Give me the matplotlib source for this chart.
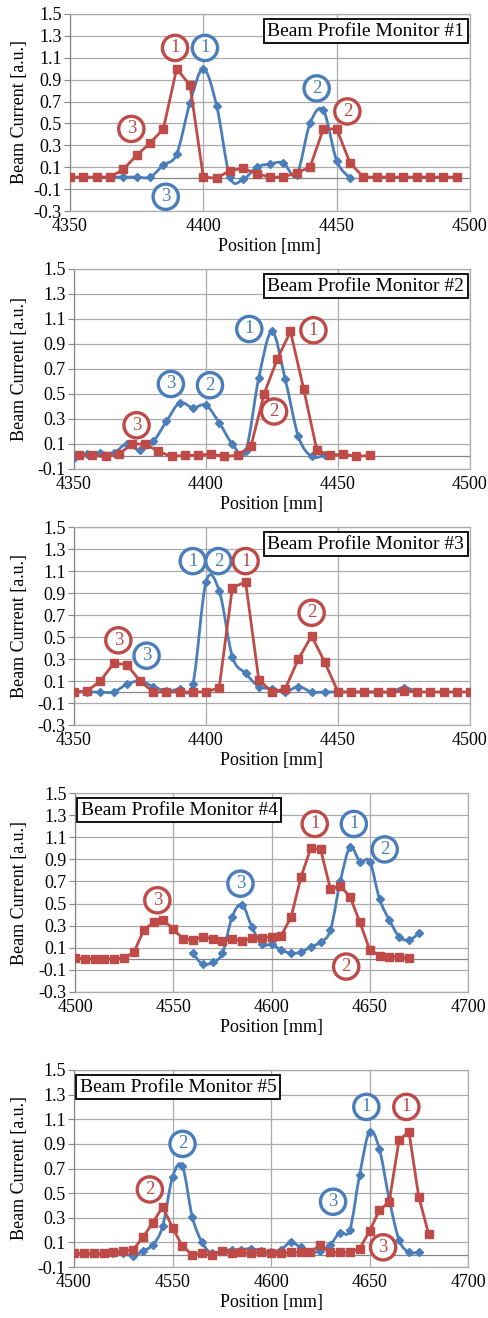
import matplotlib
matplotlib.use("Agg")
import matplotlib.pyplot as plt
import numpy as np
from matplotlib.path import Path
from matplotlib.patches import PathPatch

plt.rcParams["font.family"] = ["Liberation Serif", "DejaVu Serif"]

BLUE = "#4a7ebb"
RED = "#be4b48"

# ---- data ----
# monitor 1
m1_red_x = np.arange(4350, 4500, 5)
m1_red_y = [0.01, 0.01, 0.01, 0.01, 0.08, 0.21, 0.32, 0.45, 1.00, 0.85,
            0.01, 0.00, 0.07, 0.09, 0.04, 0.01, 0.01, 0.05, 0.10, 0.45,
            0.45, 0.14, 0.01, 0.01, 0.01, 0.01, 0.01, 0.01, 0.01, 0.01]
m1_blue_x = np.arange(4365, 4460, 5)
m1_blue_y = [0.01, 0.01, 0.01, 0.01, 0.12, 0.22, 0.69, 1.00, 0.66, 0.01,
             -0.01, 0.10, 0.13, 0.14, 0.03, 0.50, 0.62, 0.16, 0.00]

# monitor 2
m2_red_x = np.arange(4352, 4463, 5)
m2_red_y = [0.01, 0.01, 0.00, 0.02, 0.10, 0.10, 0.04, 0.00, 0.01, 0.01,
            0.02, 0.00, 0.01, 0.08, 0.50, 0.78, 1.00, 0.54, 0.05, 0.01,
            0.02, 0.00, 0.01]
m2_blue_x = np.arange(4350, 4446, 5)
m2_blue_y = [-0.01, 0.02, 0.03, 0.03, 0.10, 0.05, 0.12, 0.28, 0.43, 0.39,
             0.41, 0.27, 0.10, 0.04, 0.63, 1.00, 0.62, 0.16, 0.00, 0.01]

# monitor 3
m3_red_x = np.arange(4350, 4501, 5)
m3_red_y = [0.00, 0.01, 0.10, 0.26, 0.25, 0.10, 0.00, 0.00, 0.00, 0.00,
            0.00, 0.04, 0.95, 1.00, 0.11, 0.00, 0.03, 0.30, 0.51, 0.27,
            0.00, 0.00, 0.00, 0.00, 0.00, 0.01, 0.00, 0.00, 0.00, 0.00, 0.00]
m3_blue_x = np.arange(4350, 4481, 5)
m3_blue_y = [0.00, 0.00, 0.00, 0.00, 0.07, 0.10, 0.05, 0.01, 0.03, 0.07,
             1.00, 0.92, 0.32, 0.17, 0.05, 0.03, 0.00, 0.05, 0.00, 0.00,
             0.00, 0.00, 0.00, 0.00, 0.00, 0.04, 0.00]

# monitor 4
m4_red_x = np.arange(4500, 4671, 5)
m4_red_y = [0.01, 0.00, 0.00, 0.00, 0.00, 0.01, 0.06, 0.26, 0.33, 0.35,
            0.27, 0.18, 0.17, 0.20, 0.18, 0.16, 0.18, 0.16, 0.19, 0.19,
            0.20, 0.21, 0.38, 0.74, 1.00, 0.99, 0.63, 0.66, 0.56, 0.33,
            0.08, 0.03, 0.02, 0.02, 0.01]
m4_blue_x = np.arange(4560, 4676, 5)
m4_blue_y = [0.05, -0.05, -0.03, 0.05, 0.38, 0.49, 0.29, 0.13, 0.13, 0.08,
             0.05, 0.06, 0.11, 0.15, 0.26, 0.70, 1.01, 0.88, 0.88, 0.54,
             0.35, 0.20, 0.17, 0.23]

# monitor 5
m5_red_x = np.arange(4500, 4681, 5)
m5_red_y = [0.01, 0.01, 0.01, 0.01, 0.02, 0.03, 0.04, 0.14, 0.26, 0.39,
            0.22, 0.07, 0.00, 0.01, 0.00, 0.03, 0.01, 0.02, 0.01, 0.02,
            0.01, 0.01, 0.02, 0.02, 0.02, 0.08, 0.02, 0.02, 0.02, 0.05,
            0.19, 0.36, 0.43, 0.93, 1.00, 0.47, 0.17]
m5_blue_x = np.arange(4520, 4676, 5)
m5_blue_y = [0.01, 0.01, -0.01, 0.03, 0.08, 0.23, 0.63, 0.72, 0.31, 0.10,
             0.01, 0.03, 0.04, 0.04, 0.05, 0.03, 0.02, 0.04, 0.10, 0.06,
             0.02, 0.03, 0.08, 0.18, 0.20, 0.65, 1.00, 0.86, 0.45, 0.12,
             0.02, 0.02]

# circled peak labels: (number, colour, x, y)
m1_labels = [("1", RED, 4389.4, 1.19), ("1", BLUE, 4400.6, 1.19),
             ("3", RED, 4373.0, 0.45), ("3", BLUE, 4385.9, -0.17),
             ("2", BLUE, 4442.5, 0.82), ("2", RED, 4454.0, 0.61)]
m2_labels = [("1", BLUE, 4416.4, 1.02), ("1", RED, 4440.7, 1.01),
             ("3", BLUE, 4386.7, 0.58), ("2", BLUE, 4401.5, 0.57),
             ("3", RED, 4373.7, 0.25), ("2", RED, 4425.8, 0.36)]
m3_labels = [("1", BLUE, 4395.0, 1.19), ("2", BLUE, 4404.7, 1.19),
             ("1", RED, 4415.0, 1.19), ("2", RED, 4440.0, 0.72),
             ("3", RED, 4366.8, 0.47), ("3", BLUE, 4377.5, 0.33)]
m4_labels = [("3", RED, 4541.9, 0.53), ("3", BLUE, 4584.2, 0.68),
             ("1", RED, 4622.0, 1.22), ("1", BLUE, 4641.9, 1.22),
             ("2", BLUE, 4657.6, 0.99), ("2", RED, 4638.0, -0.07)]
m5_labels = [("2", BLUE, 4555.1, 0.90), ("2", RED, 4538.5, 0.53),
             ("3", BLUE, 4631.5, 0.43), ("1", BLUE, 4648.4, 1.20),
             ("1", RED, 4668.7, 1.20), ("3", RED, 4656.9, 0.06)]

W, H = 488, 1318
# axes boxes in pixels: left, top, right, bottom
panels = [
    dict(box=(70, 14, 470, 211), xlim=(4350, 4500), ylo=-0.3, title="Beam Profile Monitor #1",
         right=True, red=(m1_red_x, m1_red_y), blue=(m1_blue_x, m1_blue_y), labels=m1_labels),
    dict(box=(74, 269, 470, 469), xlim=(4350, 4500), ylo=-0.1, title="Beam Profile Monitor #2",
         right=True, red=(m2_red_x, m2_red_y), blue=(m2_blue_x, m2_blue_y), labels=m2_labels),
    dict(box=(74, 527, 470, 725), xlim=(4350, 4500), ylo=-0.3, title="Beam Profile Monitor #3",
         right=True, red=(m3_red_x, m3_red_y), blue=(m3_blue_x, m3_blue_y), labels=m3_labels),
    dict(box=(75, 793, 468, 992), xlim=(4500, 4700), ylo=-0.3, title="Beam Profile Monitor #4",
         right=False, red=(m4_red_x, m4_red_y), blue=(m4_blue_x, m4_blue_y), labels=m4_labels),
    dict(box=(74, 1070, 468, 1267), xlim=(4500, 4700), ylo=-0.1, title="Beam Profile Monitor #5",
         right=False, red=(m5_red_x, m5_red_y), blue=(m5_blue_x, m5_blue_y), labels=m5_labels),
]


def smooth_path(x, y):
    # Bezier smoothing like a spreadsheet "smoothed line"
    x = np.asarray(x, float)
    y = np.asarray(y, float)
    n = len(x)
    verts = [(x[0], y[0])]
    codes = [Path.MOVETO]
    for i in range(n - 1):
        a = max(i - 1, 0)
        b = min(i + 2, n - 1)
        c1 = (x[i] + (x[i + 1] - x[a]) / 6, y[i] + (y[i + 1] - y[a]) / 6)
        c2 = (x[i + 1] - (x[b] - x[i]) / 6, y[i + 1] - (y[b] - y[i]) / 6)
        verts += [c1, c2, (x[i + 1], y[i + 1])]
        codes += [Path.CURVE4] * 3
    return Path(verts, codes)


fig = plt.figure(figsize=(W / 100, H / 100), dpi=100)

for p in panels:
    l, t, r, b = p["box"]
    ax = fig.add_axes([l / W, 1 - b / H, (r - l) / W, (b - t) / H])
    ax.set_xlim(*p["xlim"])
    ax.set_ylim(p["ylo"], 1.5)
    ax.set_xticks(np.arange(p["xlim"][0], p["xlim"][1] + 1, 50))
    yt = np.arange(p["ylo"], 1.51, 0.2)
    ax.set_yticks(yt)
    ax.set_yticklabels([f"{v:.1f}" for v in yt])
    ax.grid(True, color="#ababab", lw=0.9)
    ax.set_axisbelow(True)
    for s in ax.spines.values():
        s.set_color("#ababab")
        s.set_linewidth(0.9)
    ax.spines["left"].set_color("#868686")
    ax.axhline(0, color="#868686", lw=0.9, zorder=1)
    ax.tick_params(axis="y", length=4, color="#868686", labelsize=13, pad=2)
    ax.tick_params(axis="x", length=0, labelsize=13, pad=5)

    bx, by = p["blue"]
    ax.add_patch(PathPatch(smooth_path(bx, by), fc="none", ec=BLUE, lw=2, zorder=3))
    ax.plot(bx, by, ls="none", marker="D", ms=4, color=BLUE, zorder=4)
    rx, ry = p["red"]
    ax.plot(rx, ry, "-", marker="s", ms=5.5, lw=2, color=RED, zorder=5)

    for num, col, x, y in p["labels"]:
        ax.text(x, y, num, color=col, fontsize=13.5, ha="center", va="center", zorder=6,
                bbox=dict(boxstyle="circle,pad=0.22", fc="white", ec=col, lw=2.4))

    if p["right"]:
        ax.text(0.985, 0.955, p["title"], transform=ax.transAxes, ha="right", va="top",
                fontsize=14, zorder=7,
                bbox=dict(boxstyle="square,pad=0.18", fc="white", ec="black", lw=1.3))
    else:
        ax.text(0.015, 0.955, p["title"], transform=ax.transAxes, ha="left", va="top",
                fontsize=14, zorder=7,
                bbox=dict(boxstyle="square,pad=0.18", fc="white", ec="black", lw=1.3))

    ax.set_xlabel("Position [mm]", fontsize=13, labelpad=0)
    ax.set_ylabel("Beam Current [a.u.]", fontsize=13)
    ax.xaxis.set_label_coords(0.5, -27 / (b - t))
    ax.yaxis.set_label_coords(-(l - 28) / (r - l), 0.5)

fig.savefig("out.png", dpi=100)
